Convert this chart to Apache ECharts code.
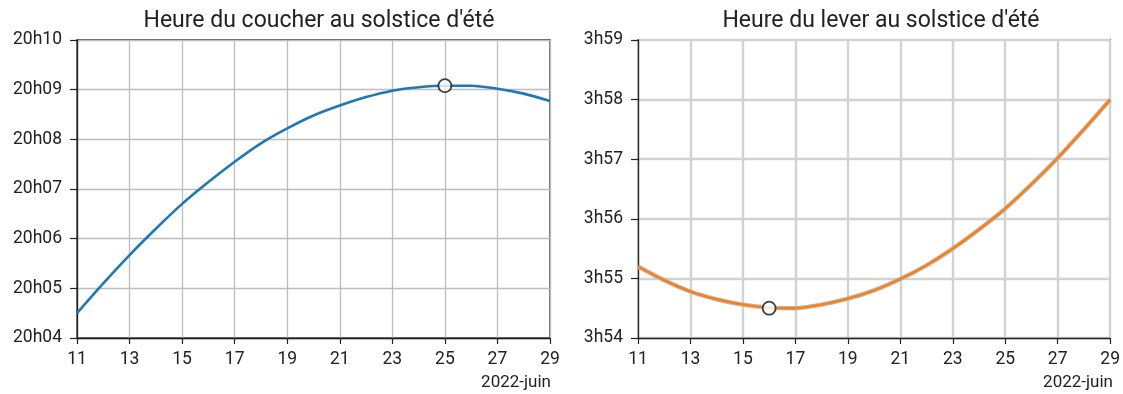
<!DOCTYPE html>
<html>
<head>
<meta charset="utf-8">
<script src="https://cdn.jsdelivr.net/npm/echarts@6/dist/echarts.min.js"></script>
<style>html,body{margin:0;padding:0;background:#fff}#c{width:1123px;height:394px}</style>
</head>
<body>
<div id="c"></div>
<script>
// Days of June 2022
const days = [11,12,13,14,15,16,17,18,19,20,21,22,23,24,25,26,27,28,29];
// Sunset: minutes after 20h00
const sunset = [4.50,5.10,5.67,6.20,6.70,7.14,7.55,7.92,8.22,8.48,8.68,8.85,8.98,9.05,9.08,9.08,9.02,8.92,8.77];
// Sunrise: minutes after 3h00
const sunrise = [55.20,54.97,54.78,54.65,54.56,54.51,54.50,54.56,54.66,54.80,54.99,55.22,55.50,55.82,56.17,56.58,57.02,57.50,58.00];
const sunsetMarker = [25, 9.08];
const sunriseMarker = [16, 54.50];
const titles = ["Heure du coucher au solstice d'été", "Heure du lever au solstice d'été"];
const monthLabel = "2022-juin";

const font = 'Roboto, "DejaVu Sans", sans-serif';
const pad = v => (v < 10 ? '0' : '') + v;
const cats = days.map(String);

function xAxis(gi, gridColor, gridWidth) {
  return {
    type: 'category', gridIndex: gi, data: cats, boundaryGap: false,
    axisLine: { lineStyle: { color: '#222', width: 1.3 } },
    axisTick: { show: true, interval: 1, length: 6, lineStyle: { color: '#222', width: 1.2 } },
    axisLabel: { interval: 1, color: '#222', fontSize: 17.5, fontFamily: font, margin: 13 },
    splitLine: { show: true, interval: 1, lineStyle: { color: gridColor, width: gridWidth } }
  };
}
function yAxis(gi, min, max, prefix, gridColor, gridWidth) {
  return {
    type: 'value', gridIndex: gi, min: min, max: max, interval: 1,
    axisLine: { show: true, lineStyle: { color: '#222', width: 1.3 } },
    axisTick: { show: true, length: 7, lineStyle: { color: '#222', width: 1.2 } },
    axisLabel: { color: '#222', fontSize: 17.5, fontFamily: font, margin: 15,
      formatter: v => prefix + pad(v) },
    splitLine: { show: true, lineStyle: { color: gridColor, width: gridWidth } }
  };
}

const chart = echarts.init(document.getElementById('c'), null, { renderer: 'canvas' });
chart.setOption({
  animation: false,
  backgroundColor: '#fff',
  title: [
    { text: titles[0], left: 314, top: 5, textAlign: 'center',
      textStyle: { fontSize: 23, fontWeight: 'normal', color: '#222', fontFamily: font } },
    { text: titles[1], left: 876, top: 5, textAlign: 'center',
      textStyle: { fontSize: 23, fontWeight: 'normal', color: '#222', fontFamily: font } }
  ],
  grid: [
    { left: 77, right: 573, top: 40, bottom: 56, show: true, borderColor: '#222', borderWidth: 1.3 },
    { left: 638, right: 11, top: 40, bottom: 56, show: true, borderColor: '#222', borderWidth: 1.3 }
  ],
  xAxis: [ xAxis(0, '#bdbdbd', 1.3), xAxis(1, '#d2d2d2', 2.4) ],
  yAxis: [ yAxis(0, 4, 10, '20h', '#bdbdbd', 1.3), yAxis(1, 54, 59, '3h', '#d2d2d2', 2.4) ],
  graphic: [
    { type: 'text', right: 1123 - 551, top: 374, style: { text: monthLabel, fill: '#222', font: '17px ' + font, textAlign: 'right' } },
    { type: 'text', right: 10, top: 374, style: { text: monthLabel, fill: '#222', font: '17px ' + font, textAlign: 'right' } }
  ],
  series: [
    { type: 'line', xAxisIndex: 0, yAxisIndex: 0, data: sunset, showSymbol: false, smooth: 0.3,
      lineStyle: { color: '#1f77b4', width: 2.6 }, z: 3 },
    { type: 'scatter', xAxisIndex: 0, yAxisIndex: 0, data: [[String(sunsetMarker[0]), sunsetMarker[1]]],
      symbol: 'circle', symbolSize: 13, itemStyle: { color: '#fff', borderColor: '#111', borderWidth: 1.8 }, z: 5 },
    { type: 'line', xAxisIndex: 1, yAxisIndex: 1, data: sunrise, showSymbol: false, smooth: 0.3,
      lineStyle: { color: '#b8b8b8', width: 4.4 }, z: 2 },
    { type: 'line', xAxisIndex: 1, yAxisIndex: 1, data: sunrise, showSymbol: false, smooth: 0.3,
      lineStyle: { color: '#ff7f0e', width: 2.4 }, z: 3 },
    { type: 'scatter', xAxisIndex: 1, yAxisIndex: 1, data: [[String(sunriseMarker[0]), sunriseMarker[1]]],
      symbol: 'circle', symbolSize: 13, itemStyle: { color: '#fff', borderColor: '#111', borderWidth: 1.8 }, z: 5 }
  ]
});
</script>
</body>
</html>
